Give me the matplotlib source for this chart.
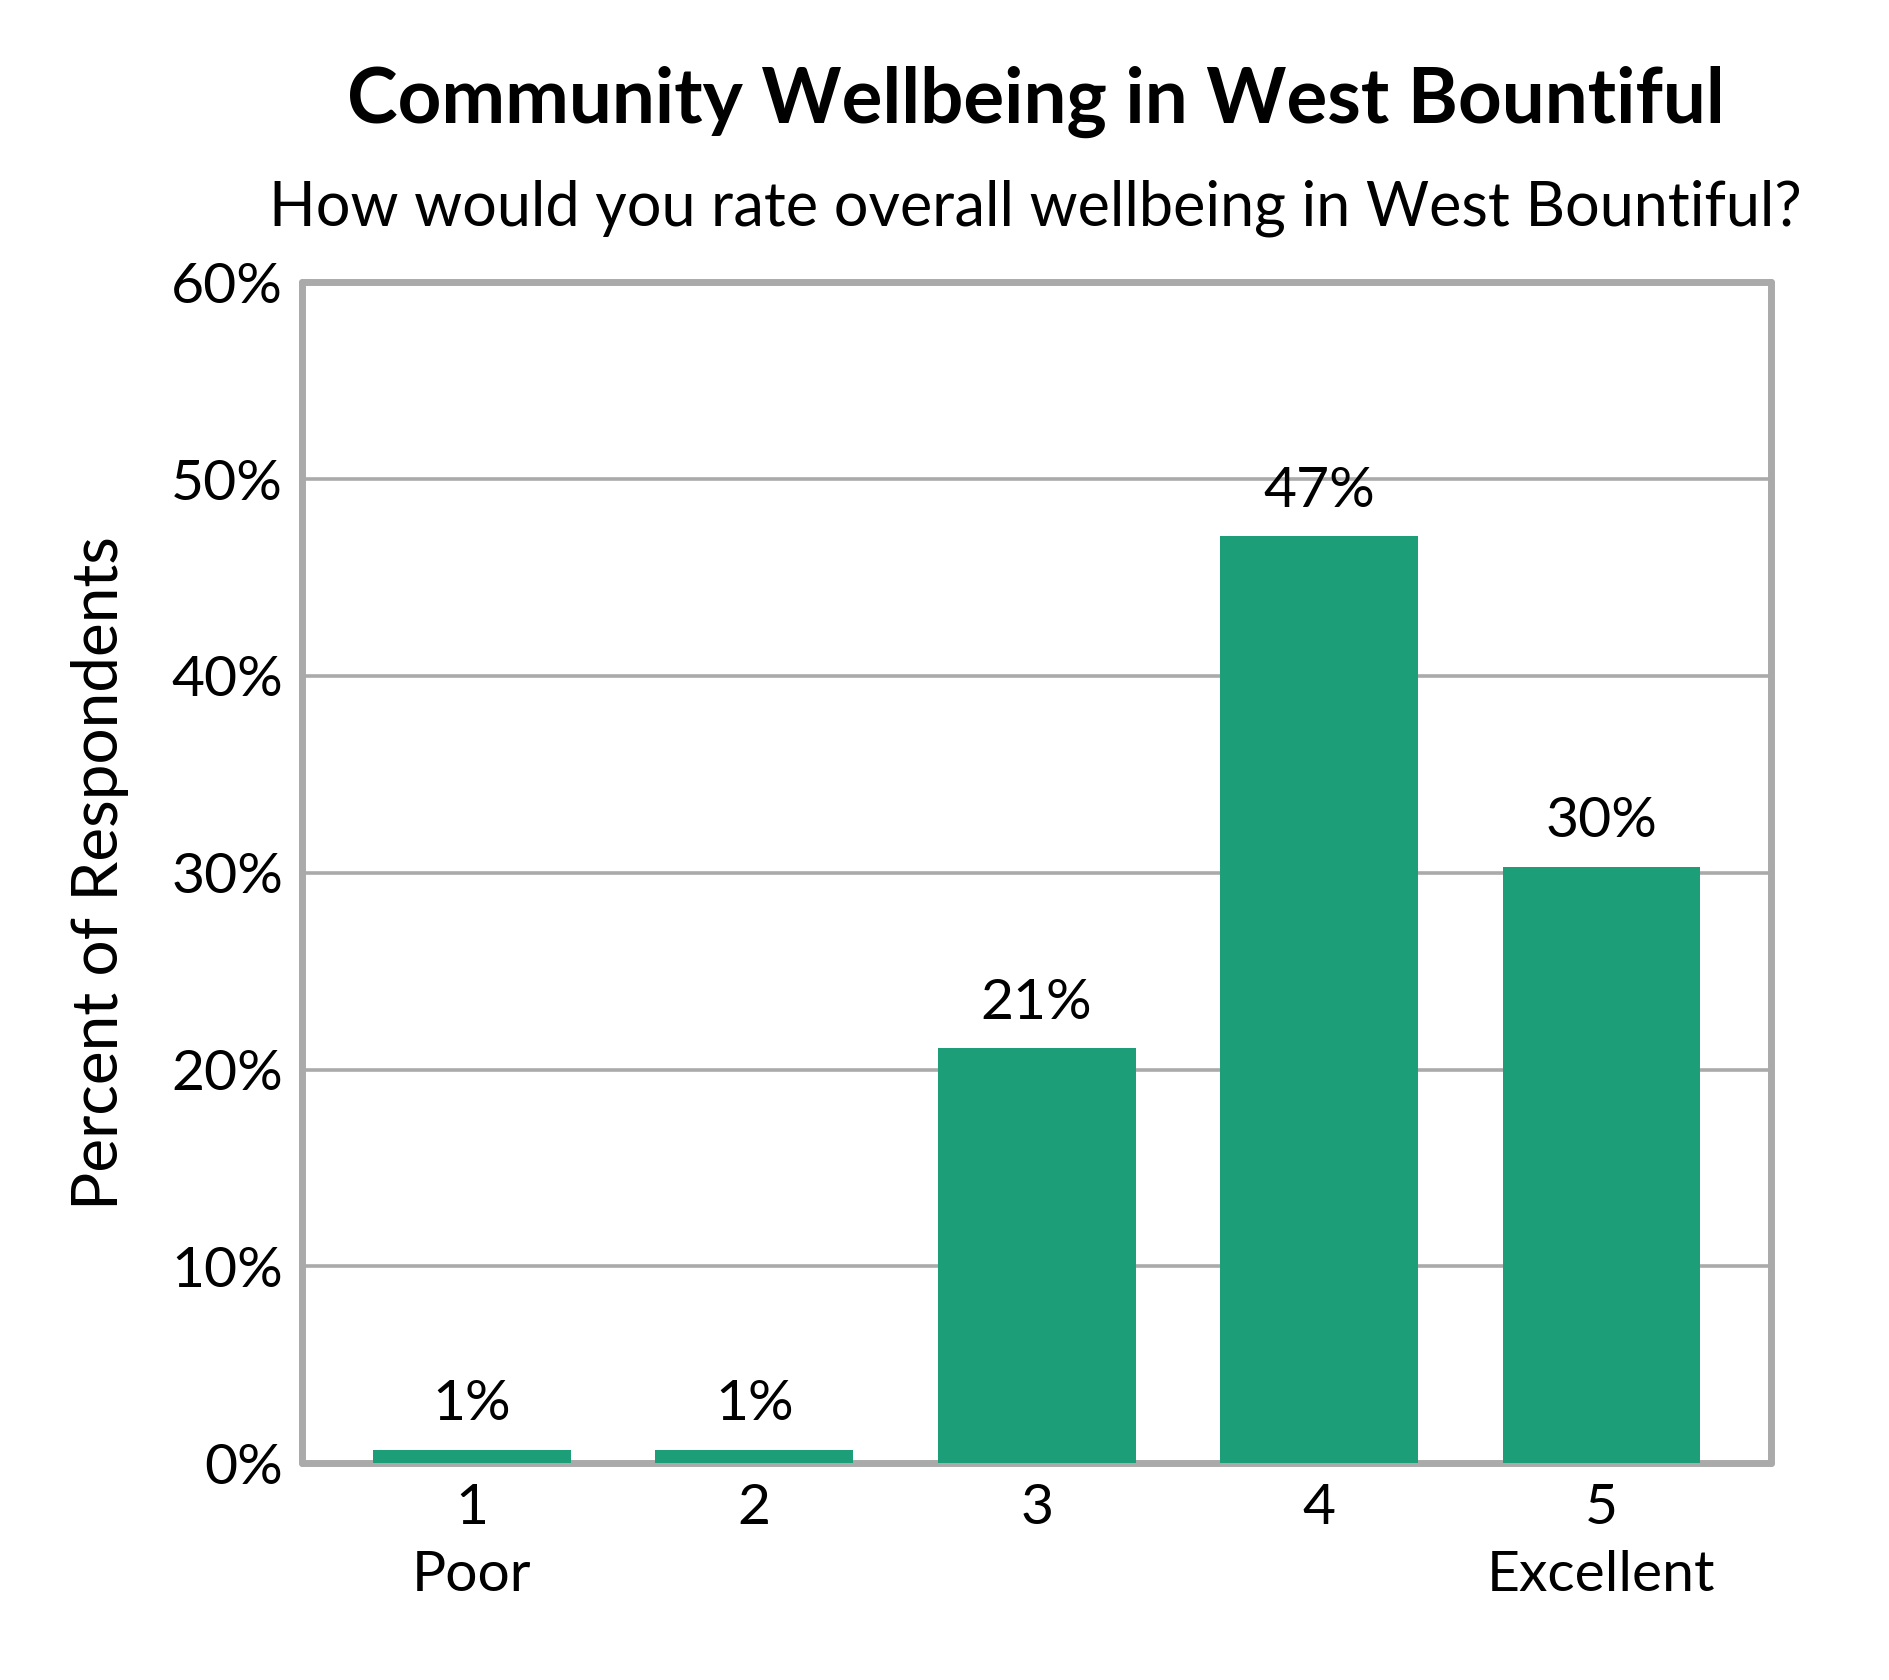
import matplotlib
matplotlib.use("Agg")
import matplotlib.pyplot as plt
from matplotlib.ticker import FuncFormatter

plt.rcParams['font.family'] = ['Lato', 'DejaVu Sans']

# data
ratings = [1, 2, 3, 4, 5]
tick_labels = ["1\nPoor", "2", "3", "4", "5\nExcellent"]
percents = [0.7, 0.7, 21.1, 47.1, 30.3]
bar_labels = ["1%", "1%", "21%", "47%", "30%"]

title = "Community Wellbeing in West Bountiful"
subtitle = "How would you rate overall wellbeing in West Bountiful?"
ylabel = "Percent of Respondents"

bar_color = "#1c9e78"
grey = "#aaaaaa"

fig = plt.figure(figsize=(18.9, 16.8), dpi=100)
ax = fig.add_axes([0.160, 0.129, 0.777, 0.703])

ax.bar(ratings, percents, width=0.7, color=bar_color, zorder=3)
for x, v, lab in zip(ratings, percents, bar_labels):
    ax.annotate(lab, (x, v), xytext=(0, 14), textcoords="offset points",
                ha="center", va="bottom", fontsize=41, zorder=4)

ax.set_xlim(0.4, 5.6)
ax.set_ylim(0, 60)
ax.set_yticks(range(0, 61, 10))
ax.yaxis.set_major_formatter(FuncFormatter(lambda v, p: "%d%%" % v))
ax.set_xticks(ratings)
ax.set_xticklabels(tick_labels, linespacing=1.4)
ax.tick_params(axis="both", length=0, labelsize=41)
ax.tick_params(axis="y", pad=14)
ax.tick_params(axis="x", pad=14)

ax.grid(axis="y", color=grey, linewidth=2.6, zorder=0)
ax.set_axisbelow(True)
for s in ax.spines.values():
    s.set_color(grey)
    s.set_linewidth(5)
    s.set_zorder(2)
    s.set_capstyle("round")

ax.set_ylabel(ylabel, fontsize=46, labelpad=30)

fig.text(0.548, 0.9395, title, ha="center", va="center", fontsize=55, fontweight="bold")
fig.text(0.548, 0.876, subtitle, ha="center", va="center", fontsize=44)

fig.savefig("out.png", dpi=100)
